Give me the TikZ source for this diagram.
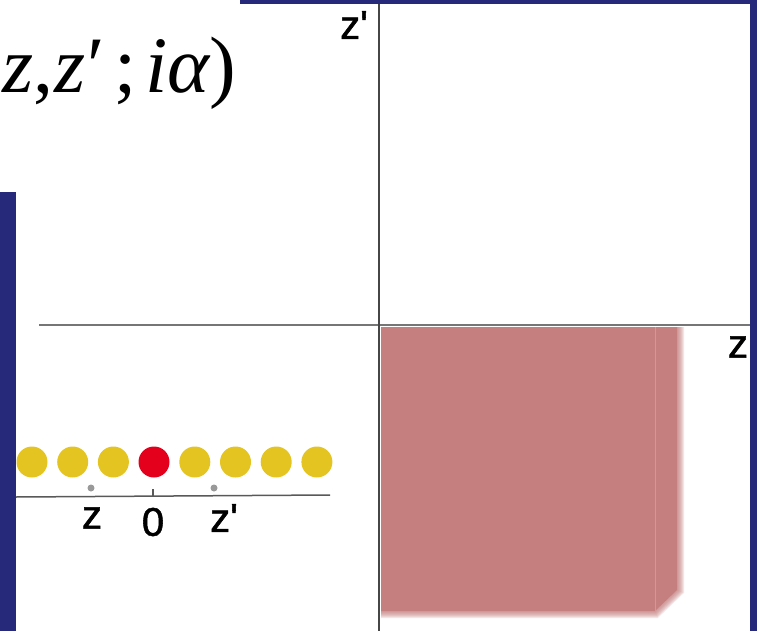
\documentclass[tikz,border=0pt]{standalone}
\usepackage{fontspec}
\setmainfont{Liberation Serif}
\setsansfont{Liberation Sans}
\newfontfamily\labfont{Liberation Sans}[FakeBold=1.3]
\definecolor{bgblue}{RGB}{38,41,122}
\definecolor{pinkfill}{RGB}{198,127,127}
\definecolor{pinkline}{RGB}{214,150,150}
\definecolor{dotyellow}{RGB}{228,196,32}
\definecolor{dotred}{RGB}{228,0,28}
\definecolor{axisgray}{RGB}{118,118,118}
\definecolor{axisdark}{RGB}{70,70,70}
\tikzset{
  lab/.style={font=\labfont\fontsize{40}{42}\selectfont, inner sep=0pt},
  ydot/.style={circle, fill=dotyellow, minimum size=31pt, inner sep=0pt, draw=none},
  rdot/.style={circle, fill=dotred, minimum size=31pt, inner sep=0pt, draw=none},
  gdot/.style={circle, fill=gray!80, minimum size=7pt, inner sep=0pt, draw=none},
  haxis/.style={draw=axisgray, line width=2pt},
  vaxis/.style={draw=axisdark, line width=1.4pt},
  base/.style={draw=axisdark!90, line width=1.5pt}
}
\newcommand{\apos}{\textquotesingle}
\begin{document}
\begin{tikzpicture}[x=1pt,y=-1pt]
\useasboundingbox (0,0) rectangle (757,631);
% background and panels
\fill[bgblue] (0,0) rectangle (757,631);
\fill[white] (16,4) rectangle (750,631);
\fill[white] (0,0) rectangle (240,192);
% formula
\node[anchor=base west, inner sep=0pt, font=\fontsize{80}{80}\selectfont] (formula) at (2,93)
  {\itshape z\upshape,\hspace{1pt}\itshape z\upshape\hspace{2pt}′\hspace{10pt};\hspace{8pt}\itshape i\hspace{0pt}α\upshape)};
% pink block with soft right and bottom edges
\foreach \e in {7,6,5,4,3,2,1} {
  \fill[pinkfill, opacity=0.18] (381,327) -- ({677+\e},327) -- ({677+\e},{590+0.4*\e}) -- ({655+0.4*\e},{611+\e}) -- (381,{611+\e}) -- cycle;
}
\fill[pinkfill] (381,327) -- (677,327) -- (677,590) -- (655,611) -- (381,611) -- cycle;
\draw[pinkline, line width=0.8pt] (655,327) -- (655,611);
% axes
\coordinate (hl) at (39,325);
\coordinate (hr) at (750,325);
\coordinate (vt) at (379,4);
\coordinate (vb) at (379,631);
\draw[haxis] (hl) -- (hr);
\draw[vaxis] (vt) -- (vb);
\node[lab] (zp) at (354,25) {z\apos};
\node[lab] (zr) at (738,347) {z};
% inset: chain of dots
\foreach \k in {0,1,2,4,5,6,7} {
  \node[ydot] (d\k) at ({32+40.7*\k},462) {};
}
\node[rdot] (d3) at (154,462) {};
\coordinate (bl) at (16,497);
\coordinate (br) at (330,495);
\draw[base] (bl) -- (br);
\coordinate (t0) at (153,489);
\coordinate (t1) at (153,497);
\draw[base, line width=1.2pt] (t0) -- (t1);
\node[gdot] (gz) at (91,488) {};
\node[gdot] (gzp) at (214,488) {};
\node[lab] (lz) at (92,518) {z};
\node[lab] (l0) at (153,522) {0};
\node[lab] (lzp) at (224,518) {z\apos};
\end{tikzpicture}
\end{document}
